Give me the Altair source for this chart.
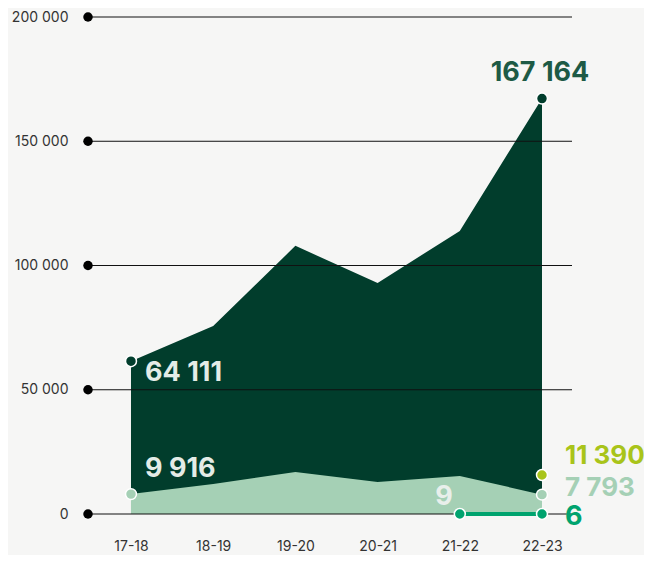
import altair as alt
import pandas as pd

seasons = ["17-18", "18-19", "19-20", "20-21", "21-22", "22-23"]
dark_vals = [61500, 75700, 107900, 93000, 113900, 167164]
light_vals = [8000, 12100, 16900, 12900, 15300, 7793]
yellow_val = 15700
teal_idx = [4, 5]
teal_vals = [9, 6]
grid_vals = [0, 50000, 100000, 150000, 200000]

dark_labels = ["64 111", "167 164"]
light_labels = ["9 916", "7 793"]
yellow_label = "11 390"
teal_labels = ["9", "6"]

DARK = "#013d2c"
LIGHT = "#a5d0b5"
YEL = "#a9c41a"
TEAL = "#00a36e"
FONT = "Inter"

idx = list(range(len(seasons)))
df_dark = pd.DataFrame({"i": idx, "v": dark_vals, "s": seasons})
df_light = pd.DataFrame({"i": idx, "v": light_vals, "s": seasons})
df_teal = pd.DataFrame({"i": teal_idx, "v": teal_vals})
df_grid = pd.DataFrame({"v": grid_vals})

xscale = alt.Scale(domain=[-0.523, 5.365], nice=False, zero=False)
yscale = alt.Scale(domain=[0, 200000], nice=False)

label_arr = "[" + ",".join("'%s'" % s for s in seasons) + "]"

xq = alt.X("i:Q", scale=xscale, axis=alt.Axis(
    values=idx, labelExpr=label_arr + "[datum.value]", grid=False, ticks=False,
    domain=False, labelPadding=25, labelFontSize=14, labelColor="#333333",
    labelFont=FONT, title=None))
yq = alt.Y("v:Q", scale=yscale, axis=alt.Axis(
    values=grid_vals, labelExpr="datum.value == 0 ? '0' : format(datum.value/1000, 'd') + ' 000'",
    grid=False, ticks=False, domain=False, labelPadding=20, labelFontSize=14,
    labelColor="#333333", labelFont=FONT, title=None))

dark_area = alt.Chart(df_dark).mark_area(color=DARK, opacity=1).encode(x=xq, y=yq)
light_area = alt.Chart(df_light).mark_area(color=LIGHT, opacity=1).encode(x=xq, y=yq)

grid = alt.Chart(df_grid).mark_rule(color="#111111", strokeWidth=1).encode(
    y=yq, x=alt.value(0), x2=alt.value(484))
grid_dots = alt.Chart(df_grid).mark_circle(color="#000000", size=90, opacity=1).encode(
    y=yq, x=alt.value(0))

teal_line = alt.Chart(df_teal).mark_line(color=TEAL, strokeWidth=4).encode(x=xq, y=yq)

def pts(df, color, stroke="white"):
    return alt.Chart(df).mark_circle(color=color, size=120, opacity=1,
                                     stroke=stroke, strokeWidth=1.5).encode(x=xq, y=yq)

dark_pts = pts(df_dark.iloc[[0, 5]], DARK)
light_pts = pts(df_light.iloc[[0, 5]], LIGHT)
yellow_pts = pts(pd.DataFrame({"i": [5], "v": [yellow_val]}), YEL)
teal_pts = pts(df_teal, TEAL)

def label(i, v, text, color, align, dx, dy, size=27):
    d = pd.DataFrame({"i": [i], "v": [v], "t": [text]})
    return alt.Chart(d).mark_text(color=color, align=align, baseline="middle",
                                  dx=dx, dy=dy, fontSize=size, fontWeight="bold",
                                  font=FONT).encode(x=xq, y=yq, text="t:N")

labels = [
    label(0, dark_vals[0], dark_labels[0], "#e4ece7", "left", 14, 12),
    label(5, dark_vals[5], dark_labels[1], "#1d5a45", "center", -2, -26),
    label(0, light_vals[0], light_labels[0], "#e4ece7", "left", 14, -25),
    label(5, light_vals[5], light_labels[1], LIGHT, "left", 23, -7, 26),
    label(5, yellow_val, yellow_label, YEL, "left", 23, -19, 26),
    label(4, teal_vals[0], teal_labels[0], "#e9efeb", "right", -7, -17),
    label(5, teal_vals[1], teal_labels[1], TEAL, "left", 23, 3),
]

chart = alt.layer(dark_area, light_area, grid, grid_dots, teal_line,
                  dark_pts, light_pts, yellow_pts, teal_pts, *labels).properties(
    width=484, height=497,
    padding={"left": 80, "top": 9, "right": 72, "bottom": 41},
    autosize=alt.AutoSizeParams(type="none"),
    background="#f6f6f5",
).configure_view(stroke=None)

chart.save("out.html", embed_options={"renderer": "svg", "actions": False})
